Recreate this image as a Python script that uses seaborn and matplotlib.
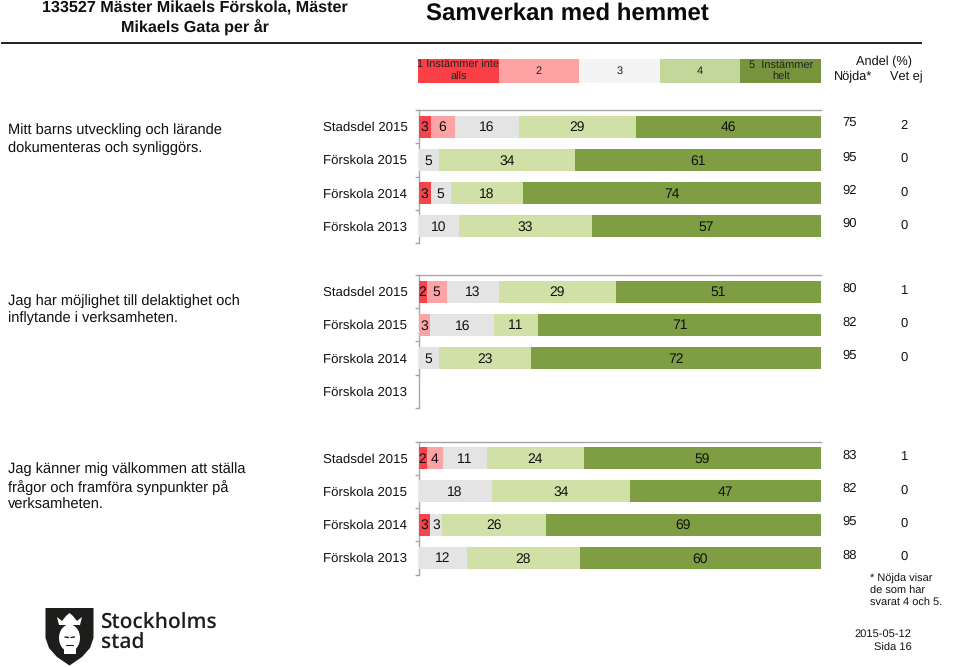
import numpy as np
import pandas as pd
import matplotlib
matplotlib.use("Agg")
import matplotlib.pyplot as plt
from matplotlib.patches import Polygon, Ellipse, Rectangle
from matplotlib.transforms import blended_transform_factory, ScaledTranslation
from matplotlib.colors import ListedColormap
import seaborn as sns

sns.set_theme(style="white")
plt.rcParams['font.family'] = ['Liberation Sans', 'DejaVu Sans']
plt.rcParams['text.hinting'] = 'no_hinting'
plt.rcParams['text.hinting_factor'] = 8
plt.rcParams['text.kerning_factor'] = 6

W, H = 959, 667
rows = ["Stadsdel 2015", "Förskola 2015", "Förskola 2014", "Förskola 2013"]
levels = ["1", "2", "3", "4", "5"]
legend_labels = ["1 Instämmer inte\nalls", "2", "3", "4", "5  Instämmer\nhelt"]
questions = [
    "Mitt barns utveckling och lärande\ndokumenteras och synliggörs.",
    "Jag har möjlighet till delaktighet och\ninflytande i verksamheten.",
    "Jag känner mig välkommen att ställa\nfrågor och framföra synpunkter på\nverksamheten.",
]
q1_values = [[3, 6, 16, 29, 46], [0, 0, 5, 34, 61], [3, 0, 5, 18, 74], [0, 0, 10, 33, 57]]
q2_values = [[2, 5, 13, 29, 51], [0, 3, 16, 11, 71], [0, 0, 5, 23, 72], [0, 0, 0, 0, 0]]
q3_values = [[2, 4, 11, 24, 59], [0, 0, 18, 34, 47], [3, 0, 3, 26, 69], [0, 0, 12, 28, 60]]
q1_nojda = ["75", "95", "92", "90"]
q1_vetej = ["2", "0", "0", "0"]
q2_nojda = ["80", "82", "95", ""]
q2_vetej = ["1", "0", "0", ""]
q3_nojda = ["83", "82", "95", "88"]
q3_vetej = ["1", "0", "0", "0"]

bar_colors = ["#f4444c", "#fba3a5", "#e4e4e4", "#d0e0a6", "#7f9d42"]
legend_colors = ["#fb3f47", "#fda3a3", "#f4f4f4", "#c4d79b", "#77933c"]
GREY = "#a6a6a6"
TXT = "#111111"

fig = plt.figure(figsize=(W / 100, H / 100), dpi=100, facecolor="white")


def px_axes(x0, y0, x1, y1, **kw):
    return fig.add_axes([x0 / W, 1 - y1 / H, (x1 - x0) / W, (y1 - y0) / H], **kw)


def draw_section(top, bottom, values, nojda, vetej):
    ax = px_axes(418.5, top, 821, bottom)
    arr = np.array(values, dtype=float)
    tot = arr.sum(axis=1, keepdims=True)
    tot[tot == 0] = 1
    share = arr / tot * 100
    cum = share.cumsum(axis=1)
    # stacked look: cumulative bars drawn longest first
    for j in range(4, -1, -1):
        df = pd.DataFrame({"row": rows, "cum": cum[:, j]})
        sns.barplot(data=df, y="row", x="cum", order=rows, color=bar_colors[j],
                    saturation=1, width=0.66, ax=ax, orient="y", zorder=2 + (4 - j),
                    linewidth=0, edgecolor="none")
    for i in range(4):
        left = 0.0
        for j in range(5):
            if arr[i, j] > 0:
                ax.text(left + share[i, j] / 2, i + 0.03, f"{int(arr[i, j])}", ha="center",
                        va="center", fontsize=10, color=TXT, zorder=20)
            left += share[i, j]
    ax.set_xlim(0, 100)
    ax.set_ylim(3.5, -0.5)
    ax.set_xlabel("")
    ax.set_ylabel("")
    ax.set_xticks([])
    ax.set_yticks(range(4))
    ax.set_yticklabels(rows, fontsize=9.5, color=TXT)
    ax.tick_params(axis="y", which="major", length=0, pad=8, left=False)
    ax.set_yticks(np.arange(-0.5, 4, 1), minor=True)
    ax.tick_params(axis="y", which="minor", length=3, width=1, color=GREY, left=True)
    shift = ScaledTranslation(0, -0.7 / 72, fig.dpi_scale_trans)
    for lab in ax.get_yticklabels():
        lab.set_verticalalignment("center")
        lab.set_transform(lab.get_transform() + shift)
    for s in ["right", "bottom"]:
        ax.spines[s].set_visible(False)
    for s in ["left", "top"]:
        ax.spines[s].set_color(GREY)
        ax.spines[s].set_linewidth(1.0)
    ax.patch.set_alpha(0)
    tr = blended_transform_factory(fig.transFigure, ax.transData)
    for i in range(4):
        ax.text(849.5 / W, i - 0.08, nojda[i], transform=tr, ha="center", va="center",
                fontsize=9.4, color=TXT, clip_on=False)
        ax.text(904 / W, i - 0.03, vetej[i], transform=tr, ha="center", va="center",
                fontsize=9.4, color=TXT, clip_on=False)
    return ax


draw_section(110, 243, q1_values, q1_nojda, q1_vetej)
draw_section(275, 408, q2_values, q2_nojda, q2_vetej)
draw_section(441.5, 574.5, q3_values, q3_nojda, q3_vetej)

# scale header as a one-row heat strip
lax = px_axes(418, 59, 821, 83)
sns.heatmap(np.arange(5).reshape(1, 5), cmap=ListedColormap(legend_colors), cbar=False,
            annot=np.array(legend_labels, dtype=object).reshape(1, 5), fmt="",
            annot_kws={"fontsize": 7.9, "color": "#222222", "linespacing": 1.2},
            xticklabels=False, yticklabels=False, linewidths=0, ax=lax)

# page layer in pixel coordinates
pg = fig.add_axes([0, 0, 1, 1], zorder=30)
pg.set_xlim(0, W)
pg.set_ylim(H, 0)
pg.axis("off")
pg.patch.set_alpha(0)


def t(x, y, s, size=10, ha="left", weight="normal", color=TXT, ls=1.12, **kw):
    pg.text(x, y, s, fontsize=size, ha=ha, va="center", fontweight=weight, color=color,
            linespacing=ls, **kw)


t(195, 18.5, "133527 Mäster Mikaels Förskola, Mäster\nMikaels Gata per år", size=11.6,
  ha="center", weight="bold", color="#111111", ls=1.28)
t(426, 14, "Samverkan med hemmet", size=17.3, weight="bold", color="#0a0a0a")
pg.plot([1, 922], [43, 43], color="#222222", lw=1.4, solid_capstyle="butt")

t(884, 62, "Andel (%)", size=9.2, ha="center")
t(853, 77, "Nöjda*", size=9.2, ha="center")
t(906, 77, "Vet ej", size=9.2, ha="center")

t(8, 139, questions[0], size=10.55, ls=1.3)
t(8, 309.5, questions[1], size=10.55, ls=1.3)
t(8, 487, questions[2], size=10.55, ls=1.3)

t(870, 591, "* Nöjda visar\nde som har\nsvarat 4 och 5.", size=7.9, ls=1.25)
t(883, 634, "2015-05-12", size=8, ha="center")
t(893, 648.5, "Sida 16", size=8, ha="center")

# Stockholms stad mark
pg.add_patch(Polygon([(45.5, 608), (93.5, 608), (93.5, 638), (90, 648), (82, 657), (69.5, 665.5),
                      (57, 657), (49, 648), (45.5, 638)], closed=True, fc="#1d1d1b", ec="none"))
pg.add_patch(Ellipse((69.5, 638), 21, 27, fc="white", ec="none"))
pg.add_patch(Rectangle((63.5, 646), 12, 8, fc="white", ec="none"))
pg.add_patch(Polygon([(57, 617), (62, 621), (66, 616), (69.5, 613), (73, 616), (77, 621), (82, 617),
                      (80, 625), (59, 625)], closed=True, fc="white", ec="none"))
pg.plot([65, 68.5], [637, 637.5], color="#1d1d1b", lw=1)
pg.plot([71, 74.5], [637.5, 637], color="#1d1d1b", lw=1)
pg.plot([66, 73], [645, 645], color="#1d1d1b", lw=0.8)
t(100.5, 623, "Stockholms", size=15, weight="semibold", color="#1d1d1b", family="Open Sans")
t(100.5, 643.5, "stad", size=15, weight="semibold", color="#1d1d1b", family="Open Sans")

fig.savefig("out.png", dpi=100, facecolor="white")
